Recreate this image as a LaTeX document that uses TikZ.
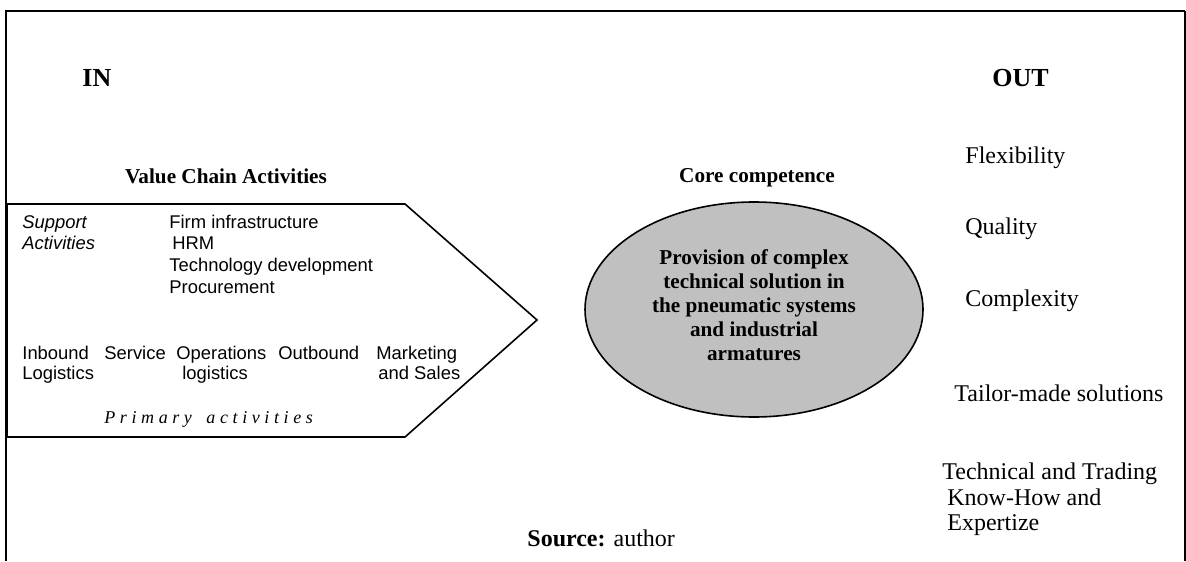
\documentclass[tikz,border=0pt]{standalone}
\usepackage{fontspec}
\setmainfont{Liberation Serif}
\newfontfamily\arialfont{Liberation Sans}
\usetikzlibrary{shapes.geometric}
\definecolor{coregray}{HTML}{C0C0C0}
\newcommand{\ls}{\hspace{2.3pt}}
\begin{document}
\begin{tikzpicture}[x=0.5pt,y=-0.5pt,
  txt/.style={inner sep=0pt, anchor=base west},
  ctxt/.style={inner sep=0pt, anchor=base},
  serif12/.style={font=\fontsize{12}{13.5}\selectfont},
  heading/.style={font=\fontsize{13}{15}\selectfont\bfseries},
  boldlabel/.style={font=\fontsize{10.6}{12}\selectfont\bfseries},
  arialtxt/.style={font=\arialfont\fontsize{9.2}{10.5}\selectfont},
  arialit/.style={font=\arialfont\itshape\fontsize{9.2}{10.5}\selectfont},
  frameline/.style={line width=1.1pt},
  shapeline/.style={line width=0.8pt}]
\useasboundingbox (0,0) rectangle (1186,561);
% outer frame
\draw[frameline] (6,561) -- (6,11) -- (1185,11);
\draw[line width=0.7pt] (1185,11) -- (1185,561);
% headings
\node[txt, heading] (in) at (82,87) {IN};
\node[txt, heading] (out) at (992,87) {OUT};
\node[ctxt, boldlabel] (vca) at (226,184) {Value Chain Activities};
\node[ctxt, boldlabel] (cc) at (757,183) {Core competence};
% value chain arrow shape
\draw[shapeline] (7,204) -- (405,204) -- (537,320) -- (405,437) -- (7,437) -- cycle;
\node[txt, arialit] (sup1) at (22,228) {Support};
\node[txt, arialit] (sup2) at (22,249) {Activities};
\node[txt, arialtxt] (fi) at (169,228) {Firm infrastructure};
\node[txt, arialtxt] (hrm) at (172,249) {HRM};
\node[txt, arialtxt] (td) at (169,271) {Technology development};
\node[txt, arialtxt] (proc) at (169,293) {Procurement};
\node[txt, arialtxt] (in1) at (22,359) {Inbound};
\node[txt, arialtxt] (in2) at (22,379) {Logistics};
\node[txt, arialtxt] (serv) at (104,359) {Service};
\node[txt, arialtxt] (op1) at (176,359) {Operations};
\node[txt, arialtxt] (op2) at (182,379) {logistics};
\node[txt, arialtxt] (outb) at (278,359) {Outbound};
\node[txt, arialtxt] (mk1) at (376,359) {Marketing};
\node[txt, arialtxt] (mk2) at (378,379) {and Sales};
\node[txt, font=\fontsize{9}{10}\selectfont\itshape] (prim) at (104,423)
  {P\ls r\ls i\ls m\ls a\ls r\ls y\hspace{5pt} a\ls c\ls t\ls i\ls v\ls i\ls t\ls i\ls e\ls s};
% core competence ellipse
\node[ellipse, draw, shapeline, fill=coregray, minimum width=169pt, minimum height=107.5pt, inner sep=0pt] (core) at (754,309.5) {};
\node[inner sep=0pt, align=center, font=\fontsize{10.6}{12}\selectfont\bfseries] (coretext) at (754,305)
  {Provision of complex\\technical solution in\\the pneumatic systems\\and industrial\\armatures};
% outputs
\node[txt, serif12] (flex) at (965,163) {Flexibility};
\node[txt, serif12] (qual) at (965,234) {Quality};
\node[txt, serif12] (compl) at (965,306) {Complexity};
\node[txt, serif12] (tail) at (954,401) {Tailor-made solutions};
\node[txt, serif12] (tech1) at (942,479) {Technical and Trading};
\node[txt, serif12] (tech2) at (947,505) {Know-How and};
\node[txt, serif12] (tech3) at (947,530) {Expertize};
% source
\node[txt, serif12] (src) at (527,546) {\textbf{Source:} author};
\end{tikzpicture}
\end{document}
